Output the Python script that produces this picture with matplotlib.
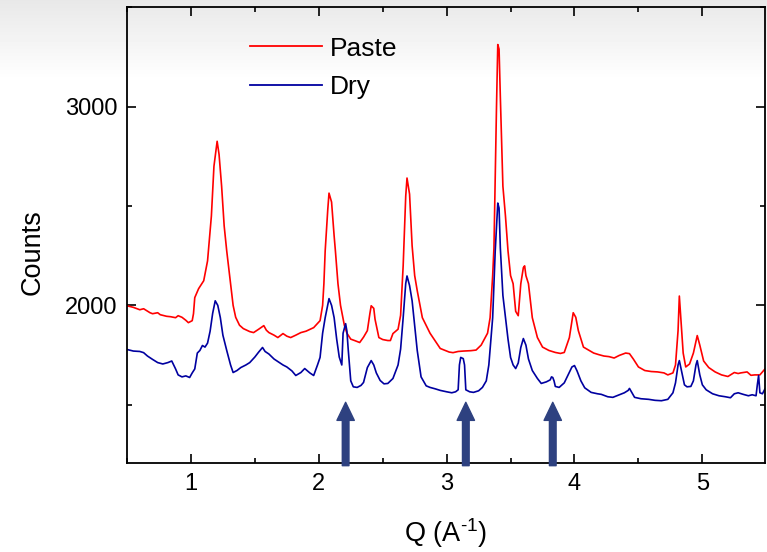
import numpy as np
import matplotlib
matplotlib.use("Agg")
import matplotlib.pyplot as plt
from matplotlib.ticker import MultipleLocator

plt.rcParams['font.family'] = ['Liberation Sans', 'DejaVu Sans']
plt.rcParams['mathtext.default'] = 'regular'

# Diffraction patterns: scattering vector Q (1/A) and detector counts
paste_q = [0.50, 0.55, 0.60, 0.63, 0.68, 0.70, 0.74, 0.76, 0.81, 0.84, 0.88, 0.90,
           0.93, 0.96, 0.98, 1.00, 1.01, 1.02, 1.03, 1.06, 1.08, 1.10, 1.13, 1.16,
           1.18, 1.205, 1.22, 1.24, 1.26, 1.28, 1.31, 1.33, 1.35, 1.38, 1.41, 1.46,
           1.49, 1.53, 1.57, 1.59, 1.61, 1.65, 1.68, 1.72, 1.75, 1.78, 1.82, 1.86,
           1.90, 1.96, 2.01, 2.03, 2.04, 2.05, 2.07, 2.08, 2.10, 2.12, 2.13, 2.15,
           2.17, 2.20, 2.22, 2.25, 2.28, 2.32, 2.35, 2.38, 2.40, 2.41, 2.43, 2.44,
           2.47, 2.50, 2.54, 2.56, 2.58, 2.62, 2.64, 2.66, 2.68, 2.69, 2.71, 2.73,
           2.75, 2.77, 2.81, 2.87, 2.95, 3.02, 3.05, 3.09, 3.13, 3.19, 3.23, 3.27,
           3.32, 3.34, 3.36, 3.37, 3.39, 3.40, 3.41, 3.42, 3.44, 3.46, 3.48, 3.50,
           3.52, 3.54, 3.56, 3.58, 3.60, 3.61, 3.62, 3.64, 3.67, 3.71, 3.75, 3.80,
           3.85, 3.89, 3.92, 3.96, 3.99, 4.01, 4.03, 4.07, 4.11, 4.15, 4.19, 4.23,
           4.27, 4.31, 4.35, 4.40, 4.43, 4.46, 4.50, 4.55, 4.60, 4.65, 4.70, 4.73,
           4.77, 4.79, 4.81, 4.82, 4.83, 4.85, 4.87, 4.90, 4.93, 4.96, 4.98, 5.01,
           5.05, 5.10, 5.15, 5.20, 5.25, 5.28, 5.30, 5.35, 5.38, 5.41, 5.45, 5.49]
paste_counts = [1998, 1990, 1978, 1983, 1963, 1958, 1963, 1953, 1945, 1943, 1938, 1948,
                1940, 1925, 1913, 1920, 1923, 1958, 2039, 2084, 2104, 2124, 2224, 2450,
                2700, 2826, 2760, 2600, 2400, 2274, 2109, 2000, 1940, 1900, 1883, 1868,
                1863, 1880, 1898, 1875, 1863, 1850, 1838, 1858, 1845, 1838, 1850, 1863,
                1870, 1888, 1923, 2000, 2109, 2274, 2480, 2565, 2520, 2350, 2274, 2109,
                2000, 1900, 1860, 1830, 1823, 1813, 1840, 1873, 1960, 1998, 1985, 1930,
                1838, 1828, 1823, 1823, 1858, 1880, 1950, 2200, 2550, 2641, 2560, 2300,
                2150, 2074, 1938, 1860, 1783, 1765, 1762, 1768, 1770, 1772, 1775, 1800,
                1860, 1938, 2150, 2289, 3000, 3313, 3290, 3050, 2600, 2450, 2274, 2150,
                2109, 1970, 1948, 2109, 2190, 2199, 2150, 2109, 1938, 1838, 1790, 1773,
                1763, 1758, 1763, 1838, 1963, 1940, 1873, 1790, 1775, 1760, 1752, 1745,
                1742, 1735, 1748, 1760, 1757, 1730, 1690, 1672, 1667, 1665, 1660, 1650,
                1660, 1700, 1873, 2047, 1950, 1760, 1690, 1705, 1760, 1848, 1800, 1720,
                1687, 1665, 1650, 1642, 1662, 1657, 1660, 1665, 1648, 1650, 1650, 1680]

dry_q = [0.50, 0.55, 0.60, 0.63, 0.66, 0.70, 0.74, 0.78, 0.82, 0.85, 0.88, 0.90,
         0.93, 0.96, 0.99, 1.01, 1.03, 1.05, 1.07, 1.09, 1.11, 1.13, 1.15, 1.17,
         1.19, 1.21, 1.23, 1.25, 1.28, 1.31, 1.33, 1.36, 1.39, 1.43, 1.46, 1.50,
         1.53, 1.56, 1.58, 1.61, 1.65, 1.68, 1.72, 1.75, 1.79, 1.82, 1.86, 1.89,
         1.93, 1.96, 1.99, 2.01, 2.03, 2.05, 2.08, 2.10, 2.12, 2.14, 2.16, 2.18,
         2.19, 2.21, 2.22, 2.23, 2.25, 2.27, 2.30, 2.33, 2.35, 2.38, 2.41, 2.43,
         2.45, 2.48, 2.51, 2.54, 2.58, 2.62, 2.64, 2.66, 2.68, 2.69, 2.71, 2.73,
         2.75, 2.77, 2.80, 2.84, 2.87, 2.91, 2.95, 3.00, 3.04, 3.07, 3.09, 3.10,
         3.11, 3.13, 3.14, 3.15, 3.18, 3.21, 3.25, 3.28, 3.31, 3.33, 3.36, 3.38,
         3.40, 3.41, 3.42, 3.44, 3.46, 3.48, 3.50, 3.52, 3.54, 3.56, 3.58, 3.60,
         3.62, 3.64, 3.67, 3.71, 3.74, 3.78, 3.81, 3.82, 3.83, 3.84, 3.85, 3.88,
         3.92, 3.95, 3.98, 4.00, 4.02, 4.05, 4.08, 4.13, 4.18, 4.21, 4.26, 4.30,
         4.35, 4.39, 4.42, 4.43, 4.45, 4.47, 4.52, 4.58, 4.63, 4.68, 4.73, 4.77,
         4.79, 4.81, 4.82, 4.84, 4.86, 4.88, 4.91, 4.93, 4.95, 4.96, 4.98, 5.00,
         5.03, 5.08, 5.13, 5.18, 5.22, 5.25, 5.28, 5.32, 5.36, 5.39, 5.42, 5.43,
         5.44, 5.45, 5.47, 5.49]
dry_counts = [1778, 1770, 1768, 1762, 1745, 1728, 1712, 1705, 1712, 1720, 1680, 1650,
              1640, 1645, 1637, 1660, 1680, 1760, 1773, 1798, 1790, 1810, 1870, 1960,
              2023, 2000, 1938, 1850, 1773, 1700, 1662, 1672, 1687, 1700, 1712, 1740,
              1765, 1788, 1768, 1755, 1730, 1717, 1700, 1690, 1670, 1647, 1662, 1682,
              1660, 1647, 1700, 1738, 1860, 1938, 2034, 2000, 1938, 1830, 1740, 1700,
              1860, 1908, 1870, 1780, 1620, 1590, 1587, 1597, 1612, 1687, 1722, 1700,
              1660, 1622, 1605, 1607, 1632, 1700, 1780, 1938, 2110, 2148, 2100, 2023,
              1900, 1773, 1640, 1595, 1587, 1580, 1572, 1565, 1560, 1565, 1575, 1700,
              1738, 1732, 1700, 1575, 1565, 1562, 1570, 1587, 1620, 1700, 1938, 2274,
              2515, 2490, 2289, 2050, 1938, 1830, 1738, 1700, 1682, 1710, 1788, 1833,
              1800, 1730, 1672, 1632, 1607, 1615, 1625, 1640, 1637, 1620, 1592, 1587,
              1610, 1650, 1690, 1697, 1670, 1620, 1585, 1562, 1555, 1552, 1540, 1537,
              1550, 1560, 1572, 1582, 1560, 1537, 1530, 1527, 1522, 1520, 1527, 1560,
              1610, 1700, 1722, 1660, 1600, 1590, 1592, 1620, 1700, 1722, 1650, 1600,
              1575, 1555, 1545, 1540, 1535, 1555, 1560, 1552, 1545, 1550, 1545, 1600,
              1647, 1560, 1555, 1580]

# Q positions of the reflections marked with arrows
arrow_q = [2.21, 3.15, 3.83]
arrow_tip = 1512

fig = plt.figure(figsize=(7.67, 5.52), dpi=100)

# soft grey shading across the top of the figure
bg = fig.add_axes([0, 0, 1, 1], zorder=-10)
rows = np.arange(552)
grad = np.repeat((0.91 + 0.09 * np.clip(rows / 80.0, 0, 1))[:, None], 2, axis=1)
bg.imshow(grad, cmap='gray', vmin=0, vmax=1, aspect='auto', extent=[0, 1, 0, 1],
          origin='upper')
bg.axis('off')

ax = fig.add_axes([127 / 767, 1 - 463.3 / 552, 638 / 767, 456.3 / 552])
ax.set_facecolor('none')

ax.plot(paste_q, paste_counts, color='#ff0000', lw=1.2, label='Paste')
ax.plot(dry_q, dry_counts, color='#0000a0', lw=1.2, label='Dry')

for q in arrow_q:
    ax.annotate('', xy=(q, arrow_tip), xytext=(q, 1193),
                arrowprops=dict(width=4.8, headwidth=12.5, headlength=13,
                                color='#2e4180', shrink=0),
                annotation_clip=False)

ax.set_xlim(0.5, 5.49)
ax.set_ylim(1205, 3502)
ax.xaxis.set_major_locator(MultipleLocator(1))
ax.xaxis.set_minor_locator(MultipleLocator(0.5))
ax.yaxis.set_major_locator(MultipleLocator(1000))
ax.yaxis.set_minor_locator(MultipleLocator(500))
ax.tick_params(which='both', direction='in', top=True, right=True, width=1.2,
               labelsize=17, pad=7)
ax.tick_params(which='major', length=6.5)
ax.tick_params(which='minor', length=3.3)
for s in ax.spines.values():
    s.set_linewidth(1.3)

ax.set_xlabel('Q (A$^{\u2010 1}$)', fontsize=19.5, va='center')
ax.xaxis.set_label_coords(0.5, -0.152)
ax.set_ylabel('Counts', fontsize=19.5, va='center')
ax.yaxis.set_label_coords(-0.148, 0.463)

leg = ax.legend(loc='upper left', bbox_to_anchor=(0.176, 0.958), frameon=False,
                fontsize=19, handlelength=2.75, handletextpad=0.3,
                labelspacing=0.55, borderaxespad=0)
for h in leg.get_lines():
    h.set_linewidth(1.3)

fig.savefig('out.png', dpi=100)
